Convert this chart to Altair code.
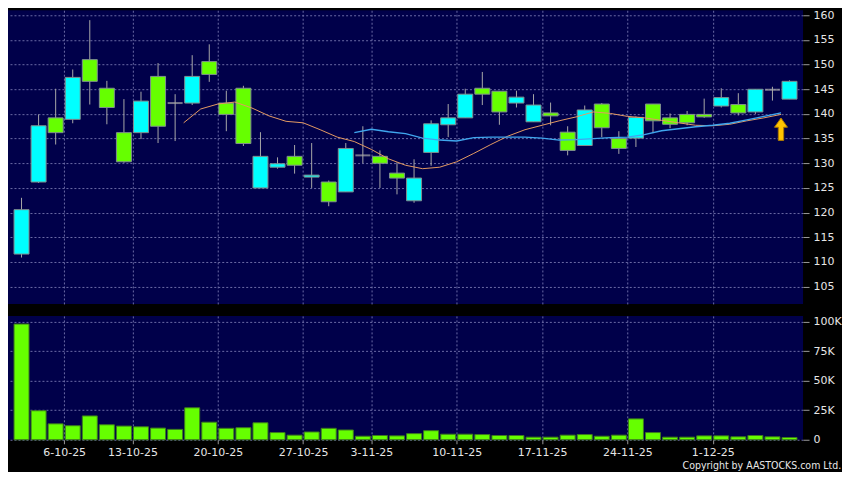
import altair as alt
import pandas as pd
from datetime import date

# ---- data ----
dates = [
    "2025-09-30", "2025-10-02", "2025-10-03", "2025-10-06", "2025-10-08", "2025-10-09",
    "2025-10-10", "2025-10-13", "2025-10-14", "2025-10-15", "2025-10-16", "2025-10-17",
    "2025-10-20", "2025-10-21", "2025-10-22", "2025-10-23", "2025-10-24", "2025-10-27",
    "2025-10-28", "2025-10-30", "2025-10-31", "2025-11-03", "2025-11-04", "2025-11-05",
    "2025-11-06", "2025-11-07", "2025-11-10", "2025-11-11", "2025-11-12", "2025-11-13",
    "2025-11-14", "2025-11-17", "2025-11-18", "2025-11-19", "2025-11-20", "2025-11-21",
    "2025-11-24", "2025-11-25", "2025-11-26", "2025-11-27", "2025-11-28", "2025-12-01",
    "2025-12-02", "2025-12-03", "2025-12-04", "2025-12-05",
]
opens = [111.6, 126.2, 139.2, 138.9, 151.0, 145.2, 136.2, 136.2, 147.6, 142.2,
         142.2, 150.6, 142.2, 145.2, 125.0, 129.2, 131.4, 127.2, 126.2, 124.2,
         131.6, 131.4, 128.0, 122.4, 132.2, 137.8, 139.2, 145.2, 144.6, 142.2,
         138.4, 140.2, 136.3, 133.6, 142.0, 135.0, 135.1, 142.0, 139.2, 139.9,
         139.9, 141.6, 141.9, 140.4, 144.9, 143.0]
highs = [123.0, 139.9, 145.1, 149.0, 159.0, 146.7, 143.0, 144.5, 150.3, 144.0,
         151.9, 154.1, 144.7, 145.7, 136.3, 131.2, 133.7, 134.1, 126.5, 134.1,
         137.5, 132.6, 130.2, 130.8, 138.7, 142.0, 145.1, 148.5, 144.6, 144.7,
         144.0, 142.3, 137.5, 141.7, 142.2, 136.5, 139.5, 142.0, 140.1, 140.6,
         143.1, 145.2, 144.2, 145.0, 145.5, 146.8]
lows = [110.9, 126.0, 133.8, 138.1, 141.9, 137.9, 130.1, 134.9, 134.1, 134.5,
        141.8, 146.5, 136.5, 133.5, 125.0, 128.9, 127.9, 125.0, 121.3, 124.2,
        130.0, 125.0, 123.7, 122.0, 129.5, 135.3, 139.2, 141.8, 137.8, 141.3,
        138.4, 137.7, 131.6, 133.6, 135.3, 131.9, 133.3, 136.1, 137.1, 137.7,
        139.2, 141.3, 139.7, 140.0, 142.7, 143.0]
closes = [120.6, 137.6, 136.2, 147.4, 146.6, 141.3, 130.3, 142.6, 137.5, 142.2,
          147.6, 148.0, 139.9, 134.0, 131.4, 129.9, 129.6, 127.6, 122.2, 133.0,
          131.6, 130.0, 127.0, 127.0, 138.0, 139.2, 144.0, 144.0, 140.4, 143.4,
          141.8, 139.6, 132.6, 140.8, 137.2, 133.0, 139.3, 138.6, 137.9, 138.2,
          139.4, 143.3, 140.2, 145.0, 144.9, 146.6]
volumes = [98100, 24600, 13500, 11900, 20200, 12700, 11600, 11000, 9900, 8800,
           27100, 14900, 9700, 10200, 14400, 6100, 3900, 6600, 9700, 8300,
           3000, 3600, 3300, 5200, 7700, 4700, 4700, 4400, 3600, 3600,
           2200, 2200, 3900, 4400, 3000, 3900, 17700, 6100, 2200, 2200,
           3300, 3300, 2500, 3600, 2500, 1900]
ma10 = [None] * 9 + [138.2, 141.0, 142.0, 142.4, 141.2, 139.6, 138.5, 138.2, 136.8,
                     135.3, 134.4, 132.8, 130.9, 129.6, 128.9, 129.2, 130.3, 132.0,
                     133.8, 135.5, 136.8, 137.7, 138.6, 139.4, 140.4, 140.1, 139.5,
                     139.2, 138.7, 138.2, 137.7, 137.6, 137.9, 138.6, 139.2, 139.9, None]
ma20 = [None] * 19 + [136.2, 136.9, 136.4, 136.0, 135.1, 134.7, 134.5, 135.2, 135.3,
                      135.3, 135.3, 135.1, 134.7, 134.8, 135.0, 135.2, 135.3, 135.8,
                      136.6, 137.0, 137.4, 137.7, 138.1, 138.8, 139.5, 140.2, None]
signal_idx = [44]
signal_price = [136.9]

price_ticks = list(range(105, 161, 5))
volume_ticks = [0, 25000, 50000, 75000, 100000]

# ---- tables ----
n = len(dates)
df = pd.DataFrame({
    "i": list(range(n)), "open": opens, "high": highs, "low": lows,
    "close": closes, "volume": volumes, "ma10": ma10, "ma20": ma20,
})
sig = pd.DataFrame({"i": signal_idx, "p": signal_price})

# week boundaries: first trading day after a weekend
dd = [date.fromisoformat(s) for s in dates]
week_pos, week_lab = [], []
for k in range(1, n):
    if dd[k].weekday() < dd[k - 1].weekday():
        week_pos.append(k - 0.5)
        week_lab.append(f"{dd[k].day}-{dd[k].month}-{dd[k].year % 100:02d}")
label_expr = "''"
for p, l in reversed(list(zip(week_pos, week_lab))):
    label_expr = f"datum.value == {p} ? '{l}' : ({label_expr})"

W = 796
NAVY = "#00004A"
FONT = "DejaVu Sans"
xscale = alt.Scale(domain=[-0.5, n - 0.5], nice=False, zero=False)
yscale = alt.Scale(domain=[101.5, 161], nice=False, zero=False)

x_axis_price = alt.Axis(values=week_pos, labels=False, ticks=False, domain=False, grid=True)
y_axis_price = alt.Axis(orient="right", values=price_ticks, domain=False, grid=True,
                        tickSize=6, labelPadding=4)


def px(field):
    return alt.X(field, type="quantitative", scale=xscale, title=None, axis=x_axis_price)


def py(field):
    return alt.Y(field, type="quantitative", scale=yscale, title=None, axis=y_axis_price)


base = alt.Chart(df)

wicks = base.mark_rule(color="#A8A8A8", strokeWidth=1).encode(
    x=px("i"), y=py("low"), y2="high:Q",
)
bodies = base.transform_filter("datum.open != datum.close").mark_bar(
    size=15, stroke="#7F8F8F", strokeWidth=1
).encode(
    x=px("i"), y=py("open"), y2="close:Q",
    color=alt.when("datum.close > datum.open").then(alt.value("#00FFFF")).otherwise(alt.value("#66FF00")),
)
doji = base.transform_filter("datum.open == datum.close").mark_tick(
    orient="horizontal", size=15, thickness=2, color="#A8A8A8"
).encode(x=px("i"), y=py("close"))

line10 = base.transform_filter("isValid(datum.ma10)").transform_calculate(
    xm="datum.i + 0.5").mark_line(color="#E39A62", strokeWidth=1).encode(
    x=px("xm"), y=py("ma10"))
line20 = base.transform_filter("isValid(datum.ma20)").transform_calculate(
    xm="datum.i + 0.5").mark_line(color="#3FA6EE", strokeWidth=1.4).encode(
    x=px("xm"), y=py("ma20"))

arrow_path = "M0,-1L0.58,-0.18L0.24,-0.18L0.24,1L-0.24,1L-0.24,-0.18L-0.58,-0.18Z"
arrow = alt.Chart(sig).transform_calculate(xm="datum.i + 0.5").mark_point(
    shape=arrow_path, size=500, filled=True, fill="#FFC400", stroke="#B07A00",
    strokeWidth=1, opacity=1
).encode(x=px("xm"), y=py("p"))

price = alt.layer(wicks, bodies, doji, line10, line20, arrow).properties(width=W, height=294)

vol = base.mark_bar(size=15, color="#66FF00", stroke="#3C7A1E", strokeWidth=1).encode(
    x=alt.X("i:Q", scale=xscale, title=None,
            axis=alt.Axis(values=week_pos, labelExpr=label_expr, domain=False, grid=True,
                          ticks=True, tickSize=4, labelPadding=3, labelFlush=False)),
    y=alt.Y("volume:Q", scale=alt.Scale(domain=[0, 105000], nice=False), title=None,
            axis=alt.Axis(orient="right", values=volume_ticks, domain=False, grid=True,
                          tickSize=6, labelPadding=4,
                          labelExpr="datum.value == 0 ? '0' : (datum.value / 1000) + 'K'")),
).properties(width=W, height=124)

chart = alt.vconcat(price, vol, spacing=11).properties(
    padding=0,
    background="#000000",
    title=alt.TitleParams("Copyright by AASTOCKS.com Ltd.", orient="bottom", anchor="end",
                          fontSize=10.5, font="DejaVu Sans Condensed", fontWeight="normal",
                          color="#E8E8E8", offset=3),
).configure_view(fill=NAVY, stroke=None).configure_axis(
    labelColor="#E6E6E6", labelFont=FONT, labelFontSize=11,
    tickColor="#9A9A9A", gridColor="#6A6AA6", gridDash=[2, 2], gridWidth=1,
)

chart.save("out.html", embed_options={"renderer": "svg", "actions": False})
